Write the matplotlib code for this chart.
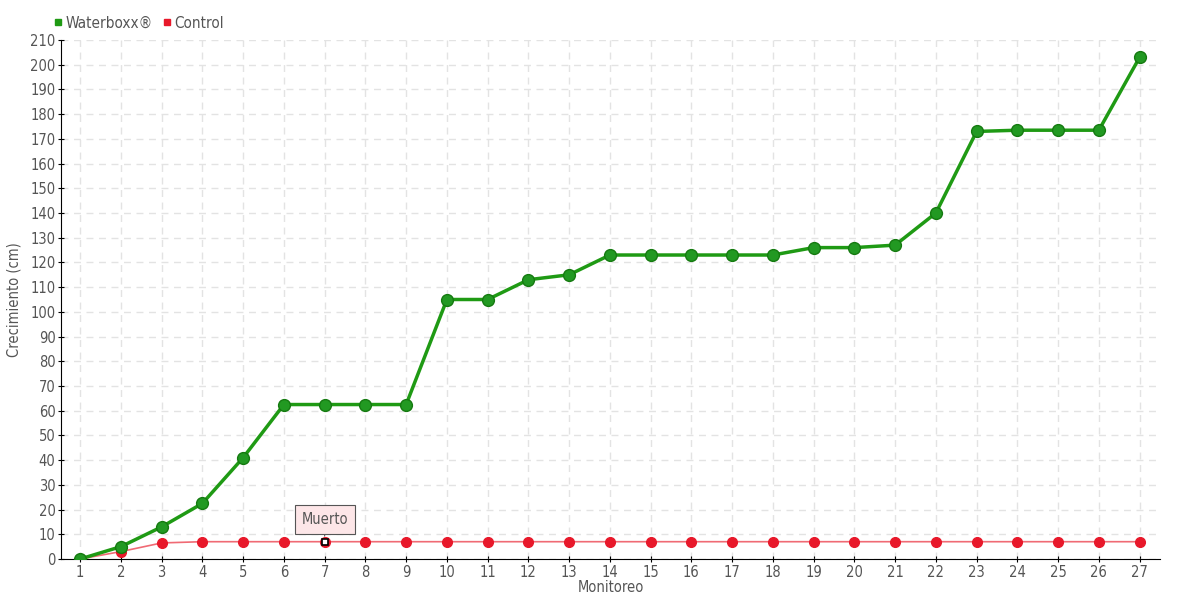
import matplotlib
matplotlib.use("Agg")
import matplotlib.pyplot as plt
from matplotlib.lines import Line2D

plt.rcParams['font.family'] = ['DejaVu Sans']
plt.rcParams['font.stretch'] = 'condensed'

monitoreo = list(range(1, 28))
waterboxx = [0, 5, 13, 22.5, 41, 62.5, 62.5, 62.5, 62.5, 105, 105, 113, 115, 123, 123,
             123, 123, 123, 126, 126, 127, 140, 173, 173.5, 173.5, 173.5, 203]
control = [0, 3, 6.5, 7, 7, 7, 7, 7, 7, 7, 7, 7, 7, 7, 7, 7, 7, 7, 7, 7, 7, 7, 7, 7, 7, 7, 7]

green = "#1f9a14"
red = "#e8182a"
txt = "#555555"

fig = plt.figure(figsize=(11.8, 6), dpi=100)
ax = fig.add_axes([61/1180, 41/600, 1099/1180, 519/600])

ax.plot(monitoreo, control, color="#f06a74", lw=1.2, zorder=3)
ax.plot(monitoreo, control, "o", color=red, ms=7, zorder=4)
ax.plot(monitoreo, waterboxx, color=green, lw=2.5, marker="o", ms=8.5,
        mfc="#229922", mec="#157a10", zorder=5)

# dead marker
ax.plot(monitoreo[6], control[6], "s", ms=5, mfc="white", mec="black", mew=1.2, zorder=6)
ax.annotate("Muerto", xy=(monitoreo[6], control[6]), xytext=(0, 16),
            textcoords="offset points", ha="center", va="center", fontsize=10.5, color=txt,
            bbox=dict(boxstyle="square,pad=0.45", fc="#fde6e8", ec="#555555", lw=0.8),
            arrowprops=dict(arrowstyle="-", color="#555555", lw=0.8, shrinkA=0, shrinkB=4),
            zorder=7)

ax.set_xlim(0.53, 27.5)
ax.set_ylim(0, 210)
ax.set_xticks(monitoreo)
ax.set_yticks(range(0, 211, 10))
ax.grid(True, ls=(0, (5, 4)), color="#e3e3e3", lw=1)
ax.set_axisbelow(True)
for s in ["top", "right"]:
    ax.spines[s].set_visible(False)
ax.spines["left"].set_color("black")
ax.spines["bottom"].set_color("black")
ax.tick_params(colors="black", labelcolor=txt, labelsize=10.5, length=4,
               direction="inout", pad=2)
ax.set_xlabel("Monitoreo", color=txt, fontsize=10.5, labelpad=0)
ax.set_ylabel("Crecimiento (cm)", color=txt, fontsize=10.5, labelpad=6)

handles = [Line2D([], [], ls="", marker="s", ms=5, color=green),
           Line2D([], [], ls="", marker="s", ms=5, color=red)]
leg = fig.legend(handles, ["Waterboxx®", "Control"], loc="upper left",
                 bbox_to_anchor=(40/1180, 1 - 2/600), ncol=2, frameon=False,
                 fontsize=11, handlelength=0.6, handletextpad=0.2, columnspacing=0.6,
                 labelcolor=txt)

fig.savefig("out.png", dpi=100)
